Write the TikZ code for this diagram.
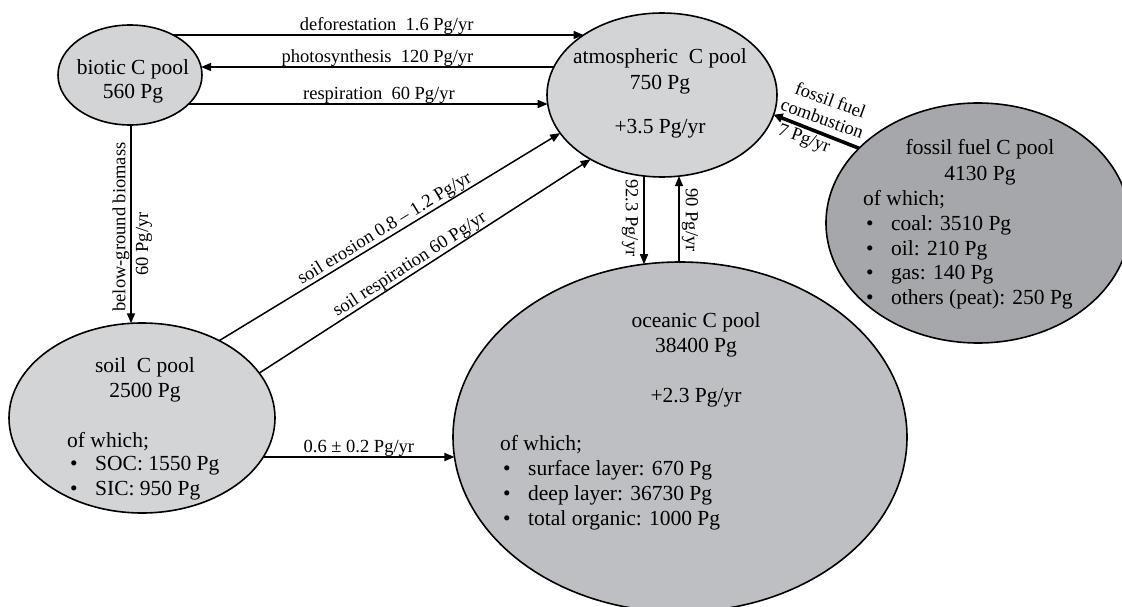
\documentclass[tikz,border=0pt]{standalone}
\usepackage{fontspec}
\setmainfont{Liberation Serif}
\usetikzlibrary{arrows.meta,shapes.geometric,calc}
\definecolor{lightpool}{RGB}{211,212,214}
\definecolor{oceanpool}{RGB}{190,191,195}
\definecolor{fossilpool}{RGB}{166,167,171}
\newcommand{\bul}{\hspace*{3pt}\makebox[25pt][l]{\textbullet}}
\def\Brx{72}\def\Bry{50}
\def\Arx{115}\def\Ary{82}
\def\Frx{152}\def\Fry{120}
\def\Srx{133}\def\Sry{95}
\def\Orx{227}\def\Ory{175}
\begin{document}
\begin{tikzpicture}[x=1pt,y=1pt,
  pool/.style={ellipse, draw=black, line width=1.6pt, inner sep=0pt, outer sep=0pt},
  flow/.style={line width=1.5pt, -{Triangle[length=10pt,width=8pt]}},
  bigflow/.style={line width=3.6pt, -{Triangle[length=9pt,width=9pt]}},
  maintxt/.style={font=\fontsize{21.5}{24.5}\selectfont, anchor=base, inner sep=0pt},
  listtxt/.style={maintxt, anchor=base west},
  lbl/.style={font=\fontsize{18.5}{20}\selectfont, inner sep=0pt},
]
\useasboundingbox (0,0) rectangle (1122,-607);

% pools
\node[pool, fill=lightpool, minimum width=144pt, minimum height=100pt] (B) at (130,-75) {};
\node[pool, fill=lightpool, minimum width=230pt, minimum height=164pt] (A) at (662,-95) {};
\node[pool, fill=fossilpool, minimum width=304pt, minimum height=240pt] (F) at (978,-223) {};
\node[pool, fill=lightpool, minimum width=266pt, minimum height=190pt] (S) at (142,-418) {};
\node[pool, fill=oceanpool, minimum width=454pt, minimum height=350pt] (O) at (680,-437) {};

% biotic text
\node[maintxt] (b1) at (133,-75) {biotic C pool};
\node[maintxt] (b2) at (133,-99) {560 Pg};
% atmospheric text
\node[maintxt] (a1) at (660,-64) {atmospheric\ \ C pool};
\node[maintxt] (a2) at (660,-90) {750 Pg};
\node[maintxt] (a3) at (660,-134) {+3.5 Pg/yr};
% fossil text
\node[maintxt] (f1) at (980,-155) {fossil fuel C pool};
\node[maintxt] (f2) at (980,-180) {4130 Pg};
\node[listtxt] (f3) at (863,-205) {of which;};
\node[listtxt] (f4) at (863,-230) {\bul coal: 3510 Pg};
\node[listtxt] (f5) at (863,-255) {\bul oil: 210 Pg};
\node[listtxt] (f6) at (863,-279) {\bul gas: 140 Pg};
\node[listtxt] (f7) at (863,-304) {\bul others (peat): 250 Pg};
% soil text
\node[maintxt] (s1) at (145,-372) {soil\ \ C pool};
\node[maintxt] (s2) at (145,-397) {2500 Pg};
\node[listtxt] (s3) at (67,-447) {of which;};
\node[listtxt] (s4) at (67,-470) {\bul SOC: 1550 Pg};
\node[listtxt] (s5) at (67,-495) {\bul SIC: 950 Pg};
% ocean text
\node[maintxt] (o1) at (696,-327) {oceanic C pool};
\node[maintxt] (o2) at (696,-352) {38400 Pg};
\node[maintxt] (o3) at (696,-402) {+2.3 Pg/yr};
\node[listtxt] (o4) at (500,-450) {of which;};
\node[listtxt] (o5) at (500,-475) {\bul surface layer: 670 Pg};
\node[listtxt] (o6) at (500,-500) {\bul deep layer: 36730 Pg};
\node[listtxt] (o7) at (500,-525) {\bul total organic: 1000 Pg};

% flows biotic <-> atmosphere
\draw[flow] ($(B.center)+({\Brx*sqrt(1-(40/\Bry)^2)},40)$) -- node[lbl, above, pos=0.52] (l1) {deforestation\ \ 1.6 Pg/yr} ($(A.center)+({-\Arx*sqrt(1-(60/\Ary)^2)},60)$);
\draw[flow] ($(A.center)+({-\Arx*sqrt(1-(28/\Ary)^2)},28)$) -- node[lbl, above, pos=0.5] (l2) {photosynthesis\ \ 120 Pg/yr} ($(B.center)+({\Brx*sqrt(1-(8/\Bry)^2)},8)$);
\draw[flow] ($(B.center)+({\Brx*sqrt(1-(29/\Bry)^2)},-29)$) -- node[lbl, above, pos=0.53] (l3) {respiration\ \ 60 Pg/yr} ($(A.center)+({-\Arx*sqrt(1-(9/\Ary)^2)},-9)$);

% biotic -> soil
\draw[flow] ($(B.center)+(1,{-\Bry*sqrt(1-(1/\Brx)^2)})$) -- ($(S.center)+(-11,{\Sry*sqrt(1-(11/\Srx)^2)})$);
\node[lbl, rotate=90] (l4) at (121,-227) {below-ground biomass};
\node[lbl, rotate=90] (l5) at (144,-244) {60 Pg/yr};

% soil -> atmosphere
\draw[flow] ($(S.center)+({\Srx*cos(54.5)},{\Sry*sin(54.5)})$) -- node[lbl, above, sloped] (l6) {soil erosion 0.8 – 1.2 Pg/yr} ($(A.center)+({\Arx*cos(207.7)},{\Ary*sin(207.7)})$);
\draw[flow] ($(S.center)+({\Srx*cos(28.2)},{\Sry*sin(28.2)})$) -- node[lbl, above, sloped, pos=0.47] (l7) {soil respiration 60 Pg/yr} ($(A.center)+({\Arx*cos(231.6)},{\Ary*sin(231.6)})$);

% soil -> ocean
\draw[flow] ($(S.center)+({\Srx*sqrt(1-(39/\Sry)^2)},-39)$) -- node[lbl, above, pos=0.5] (l8) {0.6 ± 0.2 Pg/yr} ($(O.center)+({-\Orx*sqrt(1-(20/\Ory)^2)},-20)$);

% atmosphere <-> ocean
\draw[flow] ($(A.center)+(-18,{-\Ary*sqrt(1-(18/\Arx)^2)})$) -- ($(O.center)+(-36,{\Ory*sqrt(1-(36/\Orx)^2)})$);
\draw[flow] ($(O.center)+(-1,{\Ory*sqrt(1-(1/\Orx)^2)})$) -- ($(A.center)+(17,{-\Ary*sqrt(1-(17/\Arx)^2)})$);
\node[lbl, rotate=-90] (l9) at (630,-218) {92.3 Pg/yr};
\node[lbl, rotate=-90] (l10) at (690,-220) {90 Pg/yr};

% fossil -> atmosphere
\draw[bigflow] ($(F.center)+({\Frx*cos(141.5)},{\Fry*sin(141.5)})$) -- ($(A.center)+({\Arx*cos(-13.9)},{\Ary*sin(-13.9)})$);
\node[lbl, rotate=-20, align=left, font=\fontsize{18.5}{20}\selectfont] (l11) at (821,-122) {\hspace*{8pt}fossil fuel\\combustion\\[4pt]\hspace*{6pt}7 Pg/yr};
\end{tikzpicture}
\end{document}
